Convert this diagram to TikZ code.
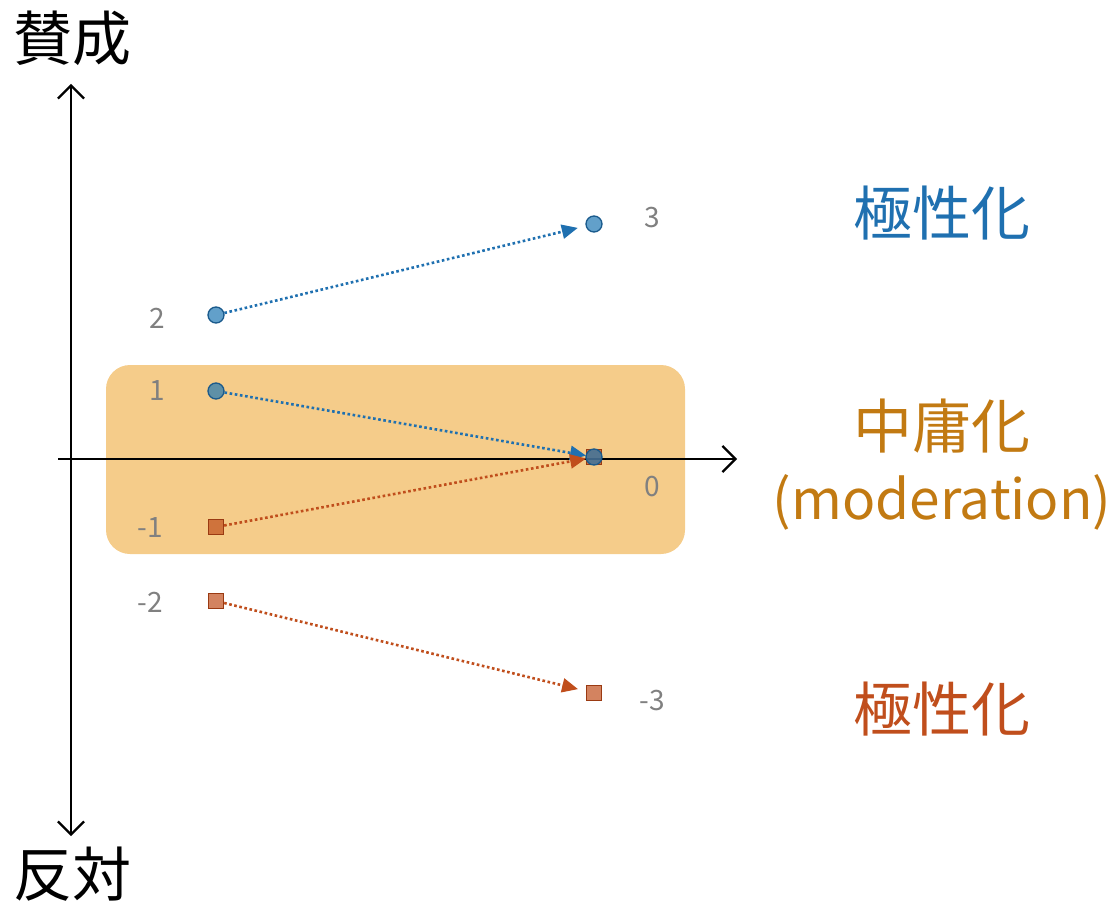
\documentclass[tikz,border=0pt]{standalone}
\usepackage{fontspec}
\setmainfont{Noto Sans CJK JP}
\usetikzlibrary{arrows.meta}
\pgfdeclarelayer{bg}
\pgfdeclarelayer{lines}
\pgfsetlayers{bg,lines,main}
\definecolor{bl}{HTML}{1F70B0}
\definecolor{blfill}{HTML}{1F77B4}
\definecolor{bledge}{HTML}{1A5A8C}
\definecolor{rd}{HTML}{C04E1C}
\definecolor{rdfill}{HTML}{C04E1C}
\definecolor{rdedge}{HTML}{9A3A12}
\definecolor{boxc}{HTML}{F5CC8A}
\definecolor{gold}{HTML}{C27A12}
\definecolor{gr}{HTML}{808080}
\tikzset{
  cmark/.style={circle,draw=bledge,fill=blfill,fill opacity=0.7,draw opacity=1,line width=1.3pt,minimum size=16pt,inner sep=0pt},
  smark/.style={rectangle,draw=rdedge,fill=rdfill,fill opacity=0.7,line width=1.3pt,minimum size=15pt,inner sep=0pt},
  conn/.style={line width=2.6pt,dash pattern=on 2.6pt off 2.6pt,-{Triangle[length=16pt,width=14pt]},shorten >=8pt},
  num/.style={text=gr,font=\fontsize{28}{32}\selectfont},
  big/.style={font=\fontsize{59}{62}\selectfont},
  axis/.style={line width=2.4pt,-{Straight Barb[length=13pt,width=26pt,line width=2.2pt]}}
}
\begin{document}
\begin{tikzpicture}[x=1pt,y=-1pt]
\useasboundingbox (0,0) rectangle (1118,904);
% markers
\node[smark] (sn1) at (216,527) {};
\node[smark] (s0) at (594,457) {};
\node[smark] (sn2) at (216,601) {};
\node[smark] (sn3) at (594,693) {};
\node[cmark] (c2) at (216,315) {};
\node[cmark] (c3) at (594,224) {};
\node[cmark] (c1) at (216,391) {};
\node[cmark] (c0) at (594,457) {};
\begin{pgfonlayer}{bg}
\node[fill=boxc,rounded corners=24pt,minimum width=579pt,minimum height=189pt,inner sep=0pt] (box) at (395.5,459.5) {};
\coordinate (yb) at (71,836);
\coordinate (yt) at (71,84);
\coordinate (xl) at (58,459);
\coordinate (xr) at (737,459);
\coordinate (o) at (71,459);
\draw[axis] (o) -- (yt);
\draw[axis] (o) -- (yb);
\draw[axis] (xl) -- (xr);
\end{pgfonlayer}
\node[big] (agree) at (72,38) {賛成};
\node[big] (oppose) at (72,874) {反対};
% connectors
\begin{pgfonlayer}{lines}
\draw[conn,bl] (c2) -- (c3);
\draw[conn,bl] (c1) -- (c0.center);
\draw[conn,rd] (sn1) -- (s0.center);
\draw[conn,rd] (sn2) -- (sn3);
\end{pgfonlayer}
% numbers
\node[num] (n3) at (652,218) {3};
\node[num] (n2) at (157,318) {2};
\node[num] (n1) at (157,391) {1};
\node[num] (nm1) at (150,528) {-1};
\node[num] (n0) at (652,487) {0};
\node[num] (nm2) at (150,602) {-2};
\node[num] (nm3) at (652,701) {-3};
% labels
\node[big,text=bl] (pol1) at (942,213) {極性化};
\node[big,text=gold] (mod) at (942,426) {中庸化};
\node[text=gold,font=\fontsize{55}{58}\selectfont] (modE) at (942,502) {(moderation)};
\node[big,text=rd] (pol2) at (942,709) {極性化};
\end{tikzpicture}
\end{document}
